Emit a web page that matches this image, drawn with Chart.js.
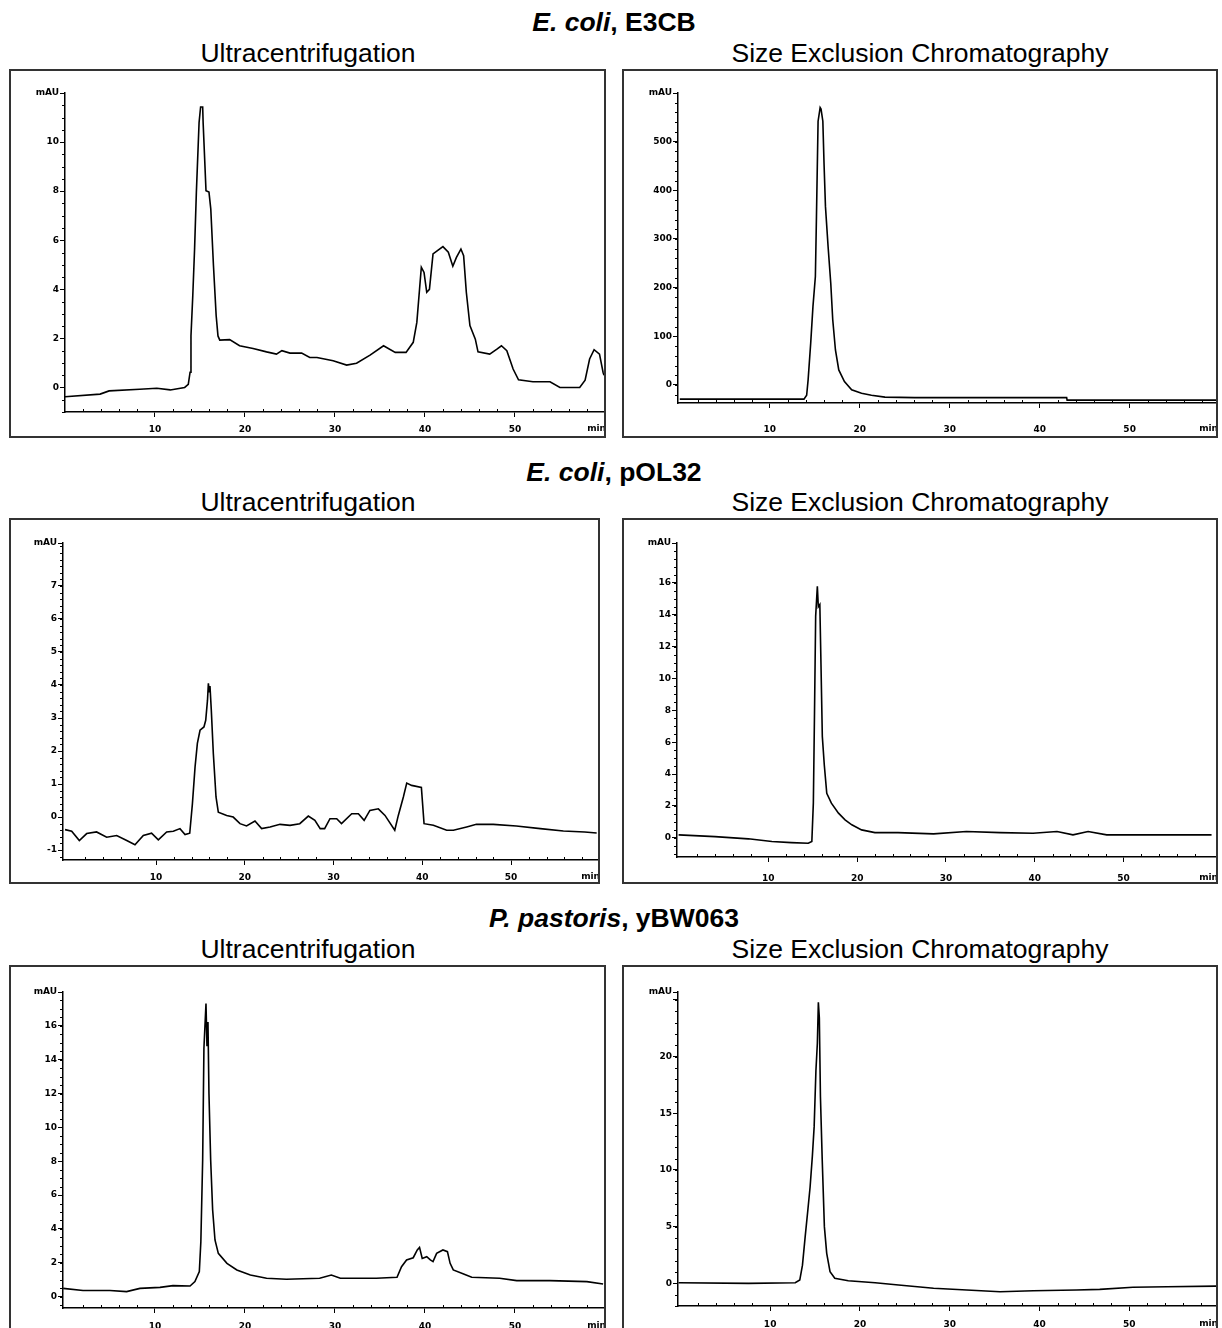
<!DOCTYPE html>
<html>
<head>
<meta charset="utf-8">
<script src="https://cdn.jsdelivr.net/npm/chart.js@4.4.1/dist/chart.umd.min.js"></script>
<style>
  html, body { margin: 0; padding: 0; background: #fff; }
  body { width: 1222px; height: 1328px; overflow: hidden; position: relative; font-family: "Liberation Sans", Arial, sans-serif; }
  .head, .sub { position: absolute; font-size: 26.5px; line-height: 30px; color: #000; white-space: nowrap; text-align: center; }
  .head { font-weight: bold; left: 0; width: 1228px; }
  .sub { font-weight: normal; }
  .sub.l { left: 0; width: 616px; }
  .sub.r { left: 620px; width: 600px; }
  .box { position: absolute; border: 2px solid #333; box-sizing: border-box; background: #fff; }
  .box canvas { position: absolute; left: 0; top: 0; }
</style>
</head>
<body>

<div class="head" style="top:7px"><i>E. coli</i>, E3CB</div>
<div class="sub l" style="top:38px">Ultracentrifugation</div>
<div class="sub r" style="top:38px">Size Exclusion Chromatography</div>
<div class="box" style="left:9px;top:69px;width:597px;height:369px"><canvas id="c1" width="593" height="365"></canvas></div>
<div class="box" style="left:622px;top:69px;width:596px;height:369px"><canvas id="c2" width="592" height="365"></canvas></div>

<div class="head" style="top:457px"><i>E. coli</i>, pOL32</div>
<div class="sub l" style="top:487px">Ultracentrifugation</div>
<div class="sub r" style="top:487px">Size Exclusion Chromatography</div>
<div class="box" style="left:9px;top:518px;width:591px;height:366px"><canvas id="c3" width="587" height="362"></canvas></div>
<div class="box" style="left:622px;top:518px;width:596px;height:366px"><canvas id="c4" width="592" height="362"></canvas></div>

<div class="head" style="top:903px"><i>P. pastoris</i>, yBW063</div>
<div class="sub l" style="top:934px">Ultracentrifugation</div>
<div class="sub r" style="top:934px">Size Exclusion Chromatography</div>
<div class="box" style="left:9px;top:965px;width:597px;height:380px"><canvas id="c5" width="593" height="376"></canvas></div>
<div class="box" style="left:622px;top:965px;width:596px;height:380px"><canvas id="c6" width="592" height="376"></canvas></div>

<script>
// retention time (min) and absorbance (mAU)

// E. coli E3CB - ultracentrifugation
var ucE3cbTime = [0, 3.9, 4.9, 8.3, 10.2, 11.7, 13.3, 13.7, 13.9, 14.0, 14.2, 14.4, 14.6, 14.9, 15.07, 15.3, 15.35, 15.67, 16.0, 16.2,
    16.5, 16.8, 17.0, 17.2, 18.3, 19.4, 20.9, 22.4, 23.5, 24.1, 25.0, 26.3, 27.2, 28.0, 29.8, 31.3, 32.4, 33.9, 35.4, 36.7,
    37.9, 38.7, 39.1, 39.4, 39.6, 39.9, 40.2, 40.5, 40.9, 42.0, 42.6, 43.1, 43.5, 44.0, 44.3, 44.6, 45.0, 45.6, 45.9, 47.2,
    48.0, 48.5, 49.1, 49.8, 50.4, 52.0, 53.9, 55.0, 57.2, 57.8, 58.3, 58.8, 59.4, 59.8, 59.9];
var ucE3cbAbs = [-0.38, -0.27, -0.14, -0.07, -0.03, -0.1, 0.0, 0.13, 0.62, 2.1, 3.74, 5.64, 7.96, 10.8, 11.43, 11.43, 10.8, 8.02, 7.96, 7.28,
    4.96, 2.92, 2.1, 1.93, 1.95, 1.7, 1.59, 1.45, 1.36, 1.5, 1.4, 1.4, 1.22, 1.22, 1.09, 0.91, 0.99, 1.32, 1.7, 1.43,
    1.43, 1.84, 2.65, 4.0, 4.9, 4.69, 3.88, 4.0, 5.44, 5.74, 5.51, 4.94, 5.3, 5.64, 5.37, 3.88, 2.52, 1.97, 1.45, 1.36,
    1.56, 1.7, 1.5, 0.75, 0.31, 0.23, 0.23, 0.0, 0.0, 0.3, 1.16, 1.54, 1.36, 0.61, 0.5];

// E. coli E3CB - size exclusion
var secE3cbTime = [0, 13.8, 14.1, 14.26, 14.55, 14.8, 15.07, 15.19, 15.37, 15.6, 15.7, 15.9, 16.03, 16.19, 16.48, 16.78, 17.0, 17.3, 17.67, 18.3,
    19.1, 20.2, 21.3, 22.8, 26.1, 43.0, 43.05, 60];
var secE3cbAbs = [-29, -29, -21, 10, 86, 161, 223, 346, 542, 570, 567, 542, 456, 367, 285, 209, 134, 72, 31, 7,
    -10, -17, -21, -25, -26, -26, -31, -31];

// E. coli pOL32 - ultracentrifugation
var ucPol32Time = [-0.25, 0.5, 1.36, 2.19, 3.3, 4.44, 5.57, 6.7, 7.63, 8.57, 9.5, 10.26, 11.2, 11.95, 12.7, 13.27, 13.8, 14.1, 14.4, 14.66,
    14.96, 15.4, 15.6, 15.8, 15.9, 16.0, 16.08, 16.23, 16.46, 16.76, 17.02, 17.96, 18.7, 19.46, 20.2, 21.15, 21.9, 22.85, 23.97, 25.1,
    26.2, 27.16, 27.9, 28.5, 29.0, 29.6, 30.36, 30.9, 32.05, 32.8, 33.45, 34.1, 35.05, 35.8, 36.9, 37.3, 37.87, 38.25, 38.8, 39.9,
    40.2, 41.25, 42.75, 43.5, 45.0, 46.1, 48.0, 50.6, 53.3, 55.9, 58.3, 59.65];
var ucPol32Abs = [-0.38, -0.43, -0.71, -0.5, -0.45, -0.61, -0.56, -0.71, -0.84, -0.56, -0.49, -0.69, -0.45, -0.43, -0.35, -0.53, -0.49, 0.4, 1.52, 2.23,
    2.63, 2.73, 2.93, 3.54, 4.05, 3.8, 3.97, 3.24, 1.92, 0.61, 0.15, 0.05, 0.0, -0.2, -0.27, -0.12, -0.35, -0.3, -0.22, -0.25,
    -0.2, 0.03, -0.1, -0.35, -0.35, -0.05, -0.05, -0.2, 0.1, 0.1, -0.1, 0.2, 0.25, 0.05, -0.4, 0.05, 0.61, 1.03, 0.96, 0.9,
    -0.2, -0.25, -0.4, -0.4, -0.3, -0.22, -0.22, -0.27, -0.35, -0.42, -0.45, -0.48];

// E. coli pOL32 - size exclusion
var secPol32Time = [-0.1, 4.0, 7.75, 10.4, 12.6, 14.5, 14.9, 15.07, 15.2, 15.33, 15.52, 15.63, 15.8, 15.93, 16.08, 16.3, 16.58, 17.1, 17.9, 18.64,
    19.4, 20.5, 22.0, 24.6, 28.6, 32.3, 36.1, 39.8, 42.5, 44.3, 46.0, 48.1, 51.1, 54.9, 59.9];
var secPol32Abs = [0.19, 0.08, -0.06, -0.23, -0.3, -0.34, -0.23, 2.18, 7.83, 13.9, 15.79, 14.5, 14.64, 10.87, 6.37, 4.59, 2.8, 2.18, 1.55, 1.13,
    0.82, 0.5, 0.33, 0.33, 0.25, 0.4, 0.33, 0.29, 0.4, 0.19, 0.4, 0.19, 0.19, 0.19, 0.19];

// P. pastoris yBW063 - ultracentrifugation
var ucYbwTime = [-0.2, 2.0, 5.0, 6.85, 8.33, 10.56, 12.0, 13.9, 14.44, 14.93, 15.1, 15.3, 15.44, 15.67, 15.78, 15.89, 16.0, 16.19, 16.41, 16.67,
    17.04, 18.0, 19.1, 20.6, 22.4, 24.6, 28.3, 29.6, 30.6, 34.6, 36.9, 37.4, 37.96, 38.7, 39.15, 39.4, 39.7, 40.2, 40.6, 40.9,
    41.3, 42.0, 42.5, 42.8, 43.15, 44.3, 45.2, 48.3, 50.2, 53.9, 58.0, 59.8];
var ucYbwAbs = [0.49, 0.36, 0.36, 0.3, 0.49, 0.55, 0.65, 0.63, 0.89, 1.48, 3.25, 8.07, 14.66, 17.32, 14.8, 16.23, 12.0, 8.07, 5.12, 3.35,
    2.56, 1.97, 1.58, 1.28, 1.09, 1.03, 1.09, 1.28, 1.09, 1.09, 1.15, 1.77, 2.17, 2.3, 2.76, 2.91, 2.26, 2.36, 2.17, 2.07,
    2.56, 2.76, 2.66, 1.97, 1.58, 1.34, 1.15, 1.09, 0.95, 0.95, 0.89, 0.75];

// P. pastoris yBW063 - size exclusion
var secYbwTime = [-0.2, 7.6, 12.8, 13.3, 13.6, 13.9, 14.2, 14.45, 14.7, 14.9, 15.1, 15.26, 15.37, 15.48, 15.6, 15.8, 16.04, 16.3, 16.67, 17.2,
    18.7, 21.7, 24.3, 28.2, 31.9, 35.6, 39.3, 44.1, 46.7, 50.4, 54.2, 59.7];
var secYbwAbs = [0.05, 0.0, 0.05, 0.29, 1.6, 4.1, 6.47, 8.5, 11.2, 13.8, 18.8, 21.2, 24.8, 23.4, 16.5, 10.9, 5.0, 2.65, 1.02, 0.44,
    0.23, 0.05, -0.15, -0.44, -0.59, -0.74, -0.66, -0.59, -0.53, -0.35, -0.3, -0.25];

// axis ticks
var timeTicks = [10, 20, 30, 40, 50];
var ucE3cbTicks = [0, 2, 4, 6, 8, 10];
var secE3cbTicks = [0, 100, 200, 300, 400, 500];
var ucPol32Ticks = [-1, 0, 1, 2, 3, 4, 5, 6, 7];
var secPol32Ticks = [0, 2, 4, 6, 8, 10, 12, 14, 16];
var ucYbwTicks = [0, 2, 4, 6, 8, 10, 12, 14, 16];
var secYbwTicks = [0, 5, 10, 15, 20];

var tickFont = { family: 'DejaVu Sans', size: 9, weight: 'bold' };

// one entry per panel: data + axis ranges + where the axes sit in the canvas
var panels = [
    { id: 'c1', t: ucE3cbTime, v: ucE3cbAbs, xMin: 0, xMax: 59.9, yMin: -1, yMax: 12, yTicks: ucE3cbTicks, yMinor: 0.5, yW: 54, top: 22, xH: 24, xPad: 7 },
    { id: 'c2', t: secE3cbTime, v: secE3cbAbs, xMin: -0.2, xMax: 59.6, yMin: -37, yMax: 600, yTicks: secE3cbTicks, yMinor: 20, yW: 54, top: 22, xH: 33, xPad: 16 },
    { id: 'c3', t: ucPol32Time, v: ucPol32Abs, xMin: -0.48, xMax: 59.8, yMin: -1.3, yMax: 8.3, yTicks: ucPol32Ticks, yMinor: 0.2, yW: 52, top: 23, xH: 22, xPad: 7 },
    { id: 'c4', t: secPol32Time, v: secPol32Abs, xMin: -0.28, xMax: 60.4, yMin: -1.2, yMax: 18.5, yTicks: secPol32Ticks, yMinor: 0.5, yW: 53, top: 23, xH: 25, xPad: 11 },
    { id: 'c5', t: ucYbwTime, v: ucYbwAbs, xMin: -0.22, xMax: 59.9, yMin: -0.67, yMax: 18, yTicks: ucYbwTicks, yMinor: 0.5, yW: 52, top: 25, xH: 35, xPad: 8 },
    { id: 'c6', t: secYbwTime, v: secYbwAbs, xMin: -0.26, xMax: 59.65, yMin: -2, yMax: 25.7, yTicks: secYbwTicks.concat([25]), yMinor: 1, yW: 54, top: 25, xH: 37, xPad: 8 }
];

// small ticks between the labelled ones, plus the "min" unit at the end of the time axis
var minorTicks = {
    id: 'minorTicks',
    afterDraw: function(chart, args, opts) {
        var ctx = chart.ctx;
        var xs = chart.scales.x, ys = chart.scales.y;
        ctx.save();
        ctx.strokeStyle = '#000';
        ctx.lineWidth = 1;
        ctx.beginPath();
        for (var v = Math.ceil(ys.min / opts.yStep) * opts.yStep; v <= ys.max; v += opts.yStep) {
            var py = Math.round(ys.getPixelForValue(v)) + 0.5;
            ctx.moveTo(ys.right - 3, py);
            ctx.lineTo(ys.right, py);
        }
        for (var t = 2; t < xs.max; t += 2) {
            if (t % 10 === 0) continue;
            var px = Math.round(xs.getPixelForValue(t)) + 0.5;
            ctx.moveTo(px, xs.top);
            ctx.lineTo(px, xs.top - 3);
        }
        ctx.stroke();
        ctx.fillStyle = '#000';
        ctx.font = 'bold 9px "DejaVu Sans"';
        ctx.textAlign = 'right';
        ctx.textBaseline = 'top';
        ctx.fillText('min', chart.chartArea.right + 2, xs.top + 5 + opts.xPad);
        ctx.restore();
    }
};

panels.forEach(function(p) {
    var points = p.t.map(function(x, i) { return { x: x, y: p.v[i] }; });
    var labelled = p.yTicks.filter(function(v) { return v !== 25 || p.id !== 'c6'; });

    new Chart(document.getElementById(p.id).getContext('2d'), {
        type: 'line',
        data: {
            datasets: [{
                data: points,
                borderColor: '#000',
                borderWidth: 1.6,
                pointRadius: 0,
                tension: 0,
                fill: false
            }]
        },
        options: {
            responsive: false,
            animation: false,
            layout: { padding: { left: 0, right: 0, top: p.top, bottom: 0 } },
            plugins: {
                legend: { display: false },
                tooltip: { enabled: false },
                minorTicks: { yStep: p.yMinor, xPad: p.xPad }
            },
            scales: {
                x: {
                    type: 'linear',
                    min: p.xMin,
                    max: p.xMax,
                    afterBuildTicks: function(s) { s.ticks = timeTicks.map(function(v) { return { value: v }; }); },
                    afterFit: function(s) { s.height = p.xH; },
                    ticks: { font: tickFont, color: '#000', padding: p.xPad, maxRotation: 0, autoSkip: false },
                    grid: { drawOnChartArea: false, tickLength: 5, color: '#000' },
                    border: { color: '#000', width: 1.5 }
                },
                y: {
                    min: p.yMin,
                    max: p.yMax,
                    afterBuildTicks: function(s) {
                        s.ticks = p.yTicks.concat([p.yMax]).map(function(v) { return { value: v }; });
                    },
                    afterFit: function(s) { s.width = p.yW; },
                    ticks: {
                        font: tickFont,
                        color: '#000',
                        padding: 1,
                        autoSkip: false,
                        callback: function(v) {
                            if (v === p.yMax) return 'mAU';
                            return labelled.indexOf(v) >= 0 ? String(v) : '';
                        }
                    },
                    grid: { drawOnChartArea: false, tickLength: 5, color: '#000' },
                    border: { color: '#000', width: 1.5 }
                }
            }
        },
        plugins: [minorTicks]
    });
});
</script>
</body>
</html>
